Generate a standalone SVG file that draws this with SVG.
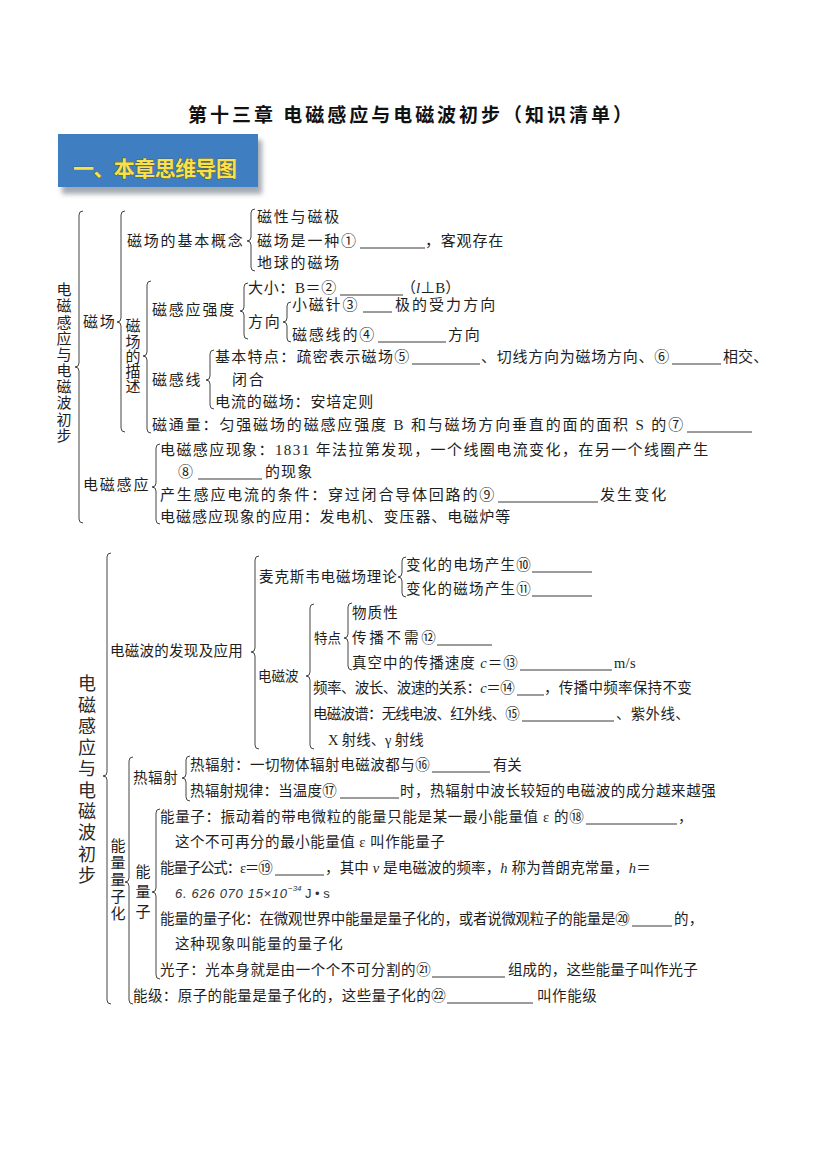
<svg xmlns="http://www.w3.org/2000/svg" width="827" height="1169" viewBox="0 0 827 1169">
<style>
.t{font-family:"Liberation Serif","Noto Sans CJK SC",serif;font-size:15px;letter-spacing:1.8px;fill:#1e1e1e}
.s{font-family:"Liberation Serif","Noto Sans CJK SC",serif;font-size:14.5px;letter-spacing:0.3px;fill:#1e1e1e}
.v1{font-family:"Noto Sans CJK SC",sans-serif;font-size:15px;fill:#1e1e1e;text-anchor:middle}
.v2{font-family:"Noto Sans CJK SC",sans-serif;font-size:18px;fill:#2a2a2a;text-anchor:middle}
.u{stroke:#222;stroke-width:0.9;fill:none}
.br{stroke:#444;stroke-width:1;fill:none}
.i{font-style:italic}
</style>
<defs>
<filter id="sh" x="-10%" y="-20%" width="120%" height="160%"><feGaussianBlur stdDeviation="2.5"/></filter>
</defs>
<rect width="827" height="1169" fill="#ffffff"/>

<g id="title">
<text x="188" y="122" textLength="444" style="font-family:'Noto Sans CJK SC',sans-serif;font-size:19px;font-weight:bold;fill:#111">第十三章  电磁感应与电磁波初步（知识清单）</text>
</g>

<g id="banner">
<rect x="62" y="140" width="200" height="54" fill="#7d8792" opacity="0.7" filter="url(#sh)"/>
<rect x="58" y="134" width="200" height="53" fill="#3e7ec1"/>
<text x="73" y="176" textLength="164" style="font-family:'Noto Sans CJK SC',sans-serif;font-size:21px;font-weight:bold;fill:#f7e24b;stroke:#5b4c12;stroke-width:0.7;paint-order:stroke">一、本章思维导图</text>
</g>

<g id="connectors">
<path class="br" d="M83,211 Q79,211 79,215 L79,363 Q79,367 75,367 Q79,367 79,371 L79,519 Q79,523 83,523"/>
<path class="br" d="M125,211 Q121,211 121,215 L121,318 Q121,322 117,322 Q121,322 121,326 L121,428 Q121,432 125,432"/>
<path class="br" d="M160,444 Q156,444 156,448 L156,483 Q156,487 152,487 Q156,487 156,491 L156,520 Q156,524 160,524"/>
<path class="br" d="M255,209 Q251,209 251,213 L251,237 Q251,241 247,241 Q251,241 251,245 L251,267 Q251,271 255,271"/>
<path class="br" d="M151,281 Q147,281 147,285 L147,352 Q147,356 143,356 Q147,356 147,360 L147,429 Q147,433 151,433"/>
<path class="br" d="M248,283 Q244,283 244,287 L244,307 Q244,311 240,311 Q244,311 244,315 L244,335 Q244,339 248,339"/>
<path class="br" d="M291,302 Q287,302 287,306 L287,318 Q287,322 283,322 Q287,322 287,326 L287,338 Q287,342 291,342"/>
<path class="br" d="M214,350 Q210,350 210,354 L210,376 Q210,380 206,380 Q210,380 210,384 L210,405 Q210,409 214,409"/>
<path class="br" d="M111,553 Q107,553 107,557 L107,772 Q107,776 103,776 Q107,776 107,780 L107,1000 Q107,1004 111,1004"/>
<path class="br" d="M259,556 Q255,556 255,560 L255,648 Q255,652 251,652 Q255,652 255,656 L255,745 Q255,749 259,749"/>
<path class="br" d="M406,557 Q402,557 402,561 L402,573 Q402,577 398,577 Q402,577 402,581 L402,593 Q402,597 406,597"/>
<path class="br" d="M314,604 Q310,604 310,608 L310,672 Q310,676 306,676 Q310,676 310,680 L310,745 Q310,749 314,749"/>
<path class="br" d="M352,603 Q348,603 348,607 L348,634 Q348,638 344,638 Q348,638 348,642 L348,666 Q348,670 352,670"/>
<path class="br" d="M133,757 Q129,757 129,761 L129,878 Q129,882 125,882 Q129,882 129,886 L129,1000 Q129,1004 133,1004"/>
<path class="br" d="M190,756 Q186,756 186,760 L186,774 Q186,778 182,778 Q186,778 186,782 L186,797 Q186,801 190,801"/>
<path class="br" d="M160,809 Q156,809 156,813 L156,888 Q156,892 152,892 Q156,892 156,896 L156,975 Q156,979 160,979"/>
</g>

<g id="map1-root">
<text class="v1" x="64 64 64 64 64 64 64 64 64 64" y="295 311 328 344 360 376 392 408 425 441">电磁感应与电磁波初步</text>
</g>
<g id="n-cichang"><text class="t" x="83" y="327">磁场</text></g>
<g id="n-jibengainian"><text class="t" x="127" y="246">磁场的基本概念</text></g>
<g id="n-cixing"><text class="t" x="257" y="222">磁性与磁极</text></g>
<g id="n-cichangshi">
<text class="t" x="257" y="246">磁场是一种①</text>
<line class="u" x1="360" y1="248" x2="425" y2="248"/>
<text class="t" x="425" y="246" textLength="80">，客观存在</text>
</g>
<g id="n-diqiu"><text class="t" x="257" y="268">地球的磁场</text></g>
<g id="n-miaoshu"><text class="v1" x="133 133 133 133 133" y="331 347 362 377 392">磁场的描述</text></g>
<g id="n-qiangdu"><text class="t" x="152" y="315">磁感应强度</text></g>
<g id="n-daxiao">
<text class="t" x="248" y="293" textLength="90">大小：B＝②</text>
<line class="u" x1="340" y1="295" x2="403" y2="295"/>
<text class="t" x="401" y="293" textLength="61">（<tspan class="i">l</tspan>⊥B）</text>
</g>
<g id="n-fangxiang"><text class="t" x="248" y="327">方向</text></g>
<g id="n-xiaocizhen">
<text class="t" x="292" y="310">小磁针③</text>
<line class="u" x1="363" y1="312" x2="392" y2="312"/>
<text class="t" x="395" y="310" textLength="102">极的受力方向</text>
</g>
<g id="n-ciganxiande">
<text class="t" x="292" y="340">磁感线的④</text>
<line class="u" x1="378" y1="342" x2="446" y2="342"/>
<text class="t" x="448" y="340">方向</text>
</g>
<g id="n-ciganxian"><text class="t" x="152" y="385">磁感线</text></g>
<g id="n-jibentedian">
<text class="t" x="215" y="362" textLength="196">基本特点：疏密表示磁场⑤</text>
<line class="u" x1="412" y1="364" x2="480" y2="364"/>
<text class="t" x="481" y="362" textLength="190">、切线方向为磁场方向、⑥</text>
<line class="u" x1="672" y1="364" x2="721" y2="364"/>
<text class="t" x="723" y="362" textLength="47">相交、</text>
<text class="t" x="232" y="385">闭合</text>
</g>
<g id="n-dianliu"><text class="t" x="215" y="407" textLength="160">电流的磁场：安培定则</text></g>
<g id="n-citongliang">
<text class="t" x="152" y="430" textLength="533">磁通量：匀强磁场的磁感应强度 B 和与磁场方向垂直的面的面积 S 的⑦</text>
<line class="u" x1="687" y1="432" x2="752" y2="432"/>
</g>
<g id="n-dianciganying"><text class="t" x="83" y="490">电磁感应</text></g>
<g id="n-xianxiang">
<text class="t" x="160" y="455" textLength="550">电磁感应现象：1831 年法拉第发现，一个线圈电流变化，在另一个线圈产生</text>
<text class="t" x="178" y="477">⑧</text>
<line class="u" x1="198" y1="479" x2="262" y2="479"/>
<text class="t" x="265" y="477" textLength="49">的现象</text>
</g>
<g id="n-tiaojian">
<text class="t" x="160" y="500" textLength="336">产生感应电流的条件：穿过闭合导体回路的⑨</text>
<line class="u" x1="498" y1="502" x2="598" y2="502"/>
<text class="t" x="600" y="500" textLength="68">发生变化</text>
</g>
<g id="n-yingyong"><text class="t" x="160" y="522" textLength="352">电磁感应现象的应用：发电机、变压器、电磁炉等</text></g>

<g id="map2-root">
<text class="v2" x="87 87 87 87 87 87 87 87 87 87" y="690 712 733 754 775 797 818 839 861 882">电磁感应与电磁波初步</text>
</g>
<g id="n-faxian"><text class="s" x="110" y="656" textLength="133">电磁波的发现及应用</text></g>
<g id="n-maikesiwei"><text class="s" x="259" y="582" textLength="138">麦克斯韦电磁场理论</text></g>
<g id="n-dianchang">
<text class="s" x="406" y="570" textLength="125">变化的电场产生⑩</text>
<line class="u" x1="532" y1="572" x2="592" y2="572"/>
</g>
<g id="n-cichang2">
<text class="s" x="406" y="594" textLength="125">变化的磁场产生⑪</text>
<line class="u" x1="532" y1="596" x2="592" y2="596"/>
</g>
<g id="n-diancibo"><text class="s" x="258" y="681" style="font-size:13.5px;letter-spacing:0">电磁波</text></g>
<g id="n-tedian"><text class="s" x="314" y="643" style="font-size:13.5px;letter-spacing:0">特点</text></g>
<g id="n-wuzhixing"><text class="s" x="352" y="618" textLength="46">物质性</text></g>
<g id="n-chuanbo">
<text class="s" x="352" y="643" textLength="84">传播不需⑫</text>
<line class="u" x1="437" y1="645" x2="492" y2="645"/>
</g>
<g id="n-zhenkong">
<text class="s" x="352" y="668" textLength="166">真空中的传播速度 <tspan class="i">c</tspan>＝⑬</text>
<line class="u" x1="520" y1="670" x2="612" y2="670"/>
<text class="s" x="614" y="668">m/s</text>
</g>
<g id="n-pinlv">
<text class="s" x="313" y="693" textLength="202">频率、波长、波速的关系：<tspan class="i">c</tspan>＝⑭</text>
<line class="u" x1="517" y1="695" x2="544" y2="695"/>
<text class="s" x="544" y="693" textLength="148">，传播中频率保持不变</text>
</g>
<g id="n-bopu">
<text class="s" x="313" y="719" textLength="207">电磁波谱：无线电波、红外线、⑮</text>
<line class="u" x1="522" y1="721" x2="614" y2="721"/>
<text class="s" x="616" y="719">、紫外线、</text>
<text class="s" x="328" y="745" textLength="96">X 射线、γ 射线</text>
</g>
<g id="n-nengliangliangzihua"><text class="v1" x="118 118 118 118 118" y="851 868 885 902 919">能量量子化</text></g>
<g id="n-refushe"><text class="s" x="133" y="783" textLength="45">热辐射</text></g>
<g id="n-refushe1">
<text class="s" x="190" y="770" textLength="240">热辐射：一切物体辐射电磁波都与⑯</text>
<line class="u" x1="432" y1="772" x2="490" y2="772"/>
<text class="s" x="493" y="770" textLength="29">有关</text>
</g>
<g id="n-refushe2">
<text class="s" x="190" y="796" textLength="147">热辐射规律：当温度⑰</text>
<line class="u" x1="340" y1="798" x2="399" y2="798"/>
<text class="s" x="400" y="796" textLength="316">时，热辐射中波长较短的电磁波的成分越来越强</text>
</g>
<g id="n-nengliangzi-label"><text class="v1" x="143 143 143" y="877 897 917">能量子</text></g>
<g id="n-nengliangzi">
<text class="s" x="160" y="822" textLength="424">能量子：振动着的带电微粒的能量只能是某一最小能量值 ε 的⑱</text>
<line class="u" x1="586" y1="824" x2="677" y2="824"/>
<text class="s" x="678" y="822">，</text>
<text class="s" x="175" y="847" textLength="270">这个不可再分的最小能量值 ε 叫作能量子</text>
</g>
<g id="n-gongshi">
<text class="s" x="160" y="873" textLength="113">能量子公式：ε＝⑲</text>
<line class="u" x1="275" y1="875" x2="324" y2="875"/>
<text class="s" x="325" y="873" textLength="326">，其中 <tspan class="i">ν</tspan> 是电磁波的频率，<tspan class="i">h</tspan> 称为普朗克常量，<tspan class="i">h</tspan>＝</text>
<text x="175" y="898" textLength="112" style="font-family:'Liberation Sans',sans-serif;font-size:13px;font-style:italic;fill:#333">6. 626 070 15×10</text>
<text x="288" y="891" style="font-family:'Liberation Sans',sans-serif;font-size:8px;font-style:italic;fill:#333">−34</text>
<text x="305" y="898" style="font-family:'Liberation Sans',sans-serif;font-size:13px;fill:#333">J • s</text>
</g>
<g id="n-lianghua">
<text class="s" x="160" y="924" textLength="470">能量的量子化：在微观世界中能量是量子化的，或者说微观粒子的能量是⑳</text>
<line class="u" x1="632" y1="926" x2="672" y2="926"/>
<text class="s" x="674" y="924">的，</text>
<text class="s" x="175" y="949" textLength="168">这种现象叫能量的量子化</text>
</g>
<g id="n-guangzi">
<text class="s" x="160" y="975" textLength="271">光子：光本身就是由一个个不可分割的㉑</text>
<line class="u" x1="432" y1="977" x2="505" y2="977"/>
<text class="s" x="508" y="975" textLength="190">组成的，这些能量子叫作光子</text>
</g>
<g id="n-nengji">
<text class="s" x="133" y="1001" textLength="313">能级：原子的能量是量子化的，这些量子化的㉒</text>
<line class="u" x1="447" y1="1003" x2="533" y2="1003"/>
<text class="s" x="537" y="1001" textLength="60">叫作能级</text>
</g>
</svg>
